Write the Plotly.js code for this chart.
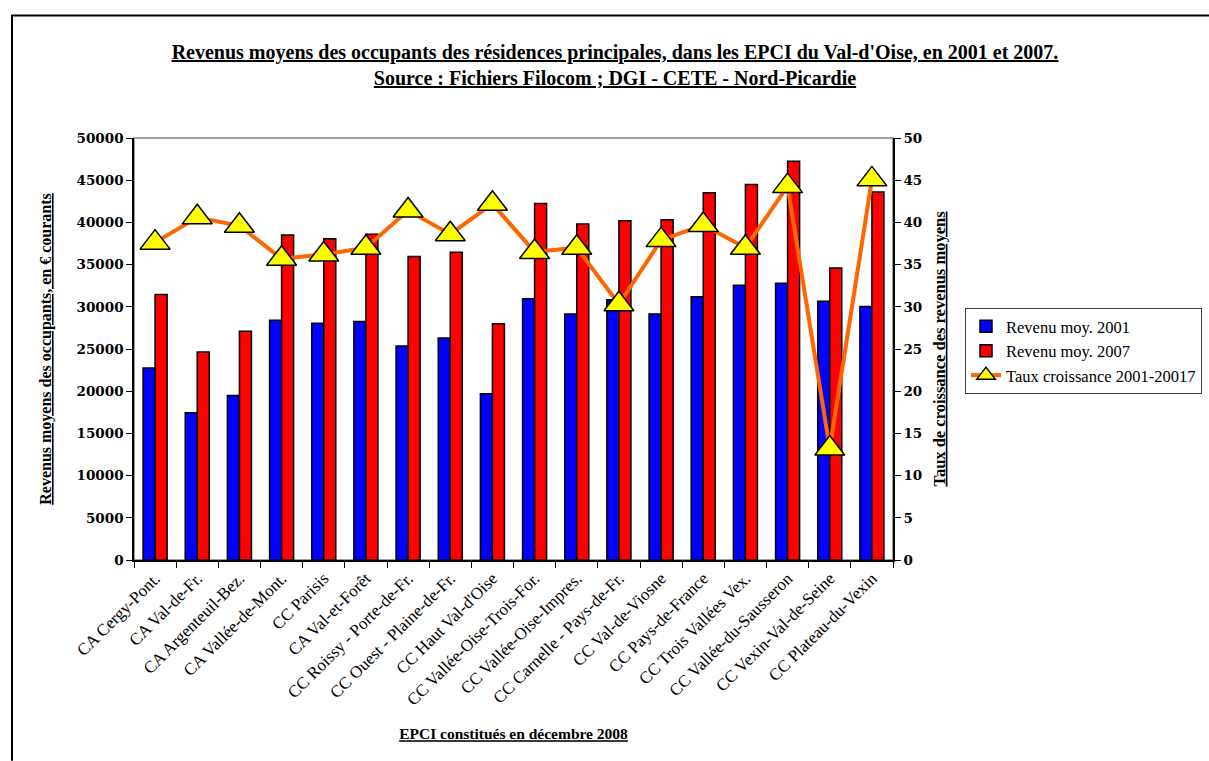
<!DOCTYPE html>
<html>
<head>
<meta charset="utf-8">
<script src="https://cdn.plot.ly/plotly-3.0.1.min.js"></script>
<style>html,body{margin:0;padding:0;background:#fff;}</style>
</head>
<body>
<div id="chart" style="width:1209px;height:761px;"></div>
<script>
const categories = [
  "CA Cergy-Pont.", "CA Val-de-Fr.", "CA Argenteuil-Bez.", "CA Vallée-de-Mont.",
  "CC Parisis", "CA Val-et-Forêt", "CC Roissy - Porte-de-Fr.", "CC Ouest - Plaine-de-Fr.",
  "CC Haut Val-d'Oise", "CC Vallée-Oise-Trois-For.", "CC Vallée-Oise-Impres.",
  "CC Carnelle - Pays-de-Fr.", "CC Val-de-Viosne", "CC Pays-de-France",
  "CC Trois Vallées Vex.", "CC Vallée-du-Sausseron", "CC Vexin-Val-de-Seine", "CC Plateau-du-Vexin"
];
const revenu2001 = [22750, 17450, 19500, 28400, 28050, 28250, 25350, 26300, 19700,
                    30950, 29150, 30850, 29150, 31200, 32550, 32800, 30650, 30050];
const revenu2007 = [31450, 24650, 27100, 38500, 38050, 38600, 35950, 36450, 28000,
                    42250, 39800, 40200, 40300, 43500, 44500, 47250, 34600, 43600];
const tauxCroissance = [37.6, 40.6, 39.6, 35.7, 36.2, 37.0, 41.4, 38.6, 42.2,
                        36.5, 37.0, 30.3, 37.9, 39.7, 37.0, 44.3, 13.2, 45.1];
const leftTicks = [0, 5000, 10000, 15000, 20000, 25000, 30000, 35000, 40000, 45000, 50000];
const rightTicks = [0, 5, 10, 15, 20, 25, 30, 35, 40, 45, 50];

const serif = "Liberation Serif, Times New Roman, serif";
const tickSerif = "DejaVu Serif, serif";

const traces = [
  {
    type: "bar", name: "Revenu moy. 2001", x: categories, y: revenu2001,
    marker: {color: "#0000FF", line: {color: "#000000", width: 1.5}}
  },
  {
    type: "bar", name: "Revenu moy. 2007", x: categories, y: revenu2007,
    marker: {color: "#FF0000", line: {color: "#000000", width: 1.5}}
  },
  {
    type: "scatter", mode: "lines+markers", name: "Taux croissance 2001-20017",
    x: categories, y: tauxCroissance, yaxis: "y2",
    line: {color: "#FF6600", width: 4},
    marker: {symbol: "triangle-up", size: 26, color: "#FFFF00", line: {color: "#000000", width: 1.5}}
  }
];

const layout = {
  width: 1209, height: 761,
  paper_bgcolor: "#FFFFFF", plot_bgcolor: "#FFFFFF",
  margin: {l: 134, r: 316, t: 138, b: 201, pad: 0},
  font: {family: serif, color: "#000000", size: 14},
  title: {
    text: "<b><u>Revenus moyens des occupants des résidences principales, dans les EPCI du Val-d'Oise, en 2001 et 2007.</u></b><br><b><u>Source : Fichiers Filocom ; DGI - CETE - Nord-Picardie</u></b>",
    font: {family: serif, size: 20, color: "#000000"},
    x: 615 / 1209, xref: "container", xanchor: "center",
    y: 1 - 59 / 761, yref: "container", yanchor: "top"
  },
  barmode: "group", bargap: 0.43, bargroupgap: 0,
  showlegend: true,
  legend: {
    xref: "container", yref: "container",
    x: 965 / 1209, y: 1 - 308 / 761, xanchor: "left", yanchor: "top",
    bordercolor: "#404040", borderwidth: 1, bgcolor: "#FFFFFF",
    font: {family: serif, size: 16.5, color: "#000000"},
    tracegroupgap: 0
  },
  xaxis: {
    type: "category", range: [-0.5, 17.5],
    tickangle: -45, ticks: "outside", ticklen: 6, tickcolor: "#000000", tickwidth: 1,
    tickson: "boundaries",
    showline: true, linecolor: "#000000", linewidth: 1.5,
    showgrid: false, zeroline: false,
    tickfont: {family: serif, size: 17, color: "#000000"},
    title: {text: "<b><u>EPCI constitués en décembre 2008</u></b>", font: {family: serif, size: 15.5, color: "#000000"}, standoff: 20}
  },
  yaxis: {
    range: [0, 50000], tickvals: leftTicks, ticktext: leftTicks.map(String),
    ticks: "outside", ticklen: 6, tickcolor: "#000000",
    showline: true, linecolor: "#000000", linewidth: 1.5,
    showgrid: false, zeroline: false,
    tickfont: {family: tickSerif, size: 13.5, color: "#000000", weight: "bold"},
    title: {text: "<b><u>Revenus moyens des occupants, en € courants</u></b>", font: {family: serif, size: 16, color: "#000000"}, standoff: 21}
  },
  yaxis2: {
    overlaying: "y", side: "right",
    range: [0, 50], tickvals: rightTicks, ticktext: rightTicks.map(String),
    ticks: "outside", ticklen: 6, tickcolor: "#000000",
    showline: true, linecolor: "#000000", linewidth: 1.5,
    showgrid: false, zeroline: false,
    tickfont: {family: tickSerif, size: 13.5, color: "#000000", weight: "bold"},
    title: {text: "<b><u>Taux de croissance des revenus moyens</u></b>", font: {family: serif, size: 16.5, color: "#000000"}, standoff: 12}
  },
  shapes: [
    {type: "rect", xref: "paper", yref: "paper", x0: 0, x1: 1, y0: 0, y1: 1,
     line: {color: "#808080", width: 1.5}, layer: "below"},
    {type: "line", xref: "paper", yref: "paper",
     x0: (11 - 134) / 759, x1: (1209 - 134) / 759, y0: (560 - 15) / 422.3, y1: (560 - 15) / 422.3,
     line: {color: "#000000", width: 2}},
    {type: "line", xref: "paper", yref: "paper",
     x0: (12 - 134) / 759, x1: (12 - 134) / 759, y0: (560 - 15) / 422.3, y1: (560 - 761) / 422.3,
     line: {color: "#000000", width: 2}}
  ]
};

Plotly.newPlot("chart", traces, layout, {displayModeBar: false, responsive: false});
</script>
</body>
</html>
